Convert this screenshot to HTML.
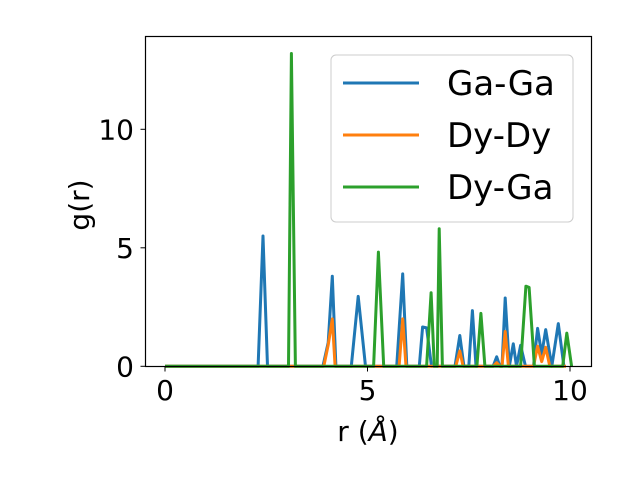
<!DOCTYPE html>
<html><head><meta charset="utf-8"><style>
html,body{margin:0;padding:0;background:#fff;}
svg text{font-family:"DejaVu Sans","Liberation Sans",sans-serif;fill:#000;}
</style></head><body>
<svg id="chart" width="640" height="480" viewBox="0 0 640 480" xmlns="http://www.w3.org/2000/svg">
<rect width="640" height="480" fill="#fff"/>
<g id="plot"></g>
<rect x="145.5" y="36.5" width="446" height="330" fill="none" stroke="#000" stroke-width="1.2"/>
<g id="ticks"></g>
<text transform="translate(89,205) rotate(-90)" text-anchor="middle" font-size="28">g(r)</text>
<text x="368" y="441" text-anchor="middle" font-size="28">r (<tspan font-style="italic">Å</tspan>)</text>
<g>
<rect x="331" y="55" width="242" height="167" rx="5" fill="#fff" fill-opacity="0.8" stroke="#ccc" stroke-width="1"/>
<line x1="343" y1="83" x2="419" y2="83" stroke="#1f77b4" stroke-width="3"/>
<text x="447" y="95" font-size="34">Ga-Ga</text>
<line x1="343" y1="135" x2="419" y2="135" stroke="#ff7f0e" stroke-width="3"/>
<text x="447" y="147" font-size="34">Dy-Dy</text>
<line x1="343" y1="187" x2="419" y2="187" stroke="#2ca02c" stroke-width="3"/>
<text x="447" y="199" font-size="34">Dy-Ga</text>
</g>
</svg>
<script>
const gaGaR = [0,2.3,2.42,2.53,3.9,4.03,4.13,4.22,4.6,4.77,4.95,5.72,5.87,5.97,6.28,6.36,6.46,6.58,7.16,7.28,7.38,7.5,7.59,7.68,8.1,8.19,8.27,8.32,8.4,8.5,8.6,8.68,8.78,8.9,9.1,9.2,9.3,9.4,9.55,9.71,9.85];
const gaGaG = [0,0,5.5,0,0,1.0,3.8,0,0,2.95,0,0,3.9,0,0,1.66,1.62,0,0,1.3,0,0,2.35,0,0,0.4,0,0,2.88,0,0.95,0,0.88,0,0,1.6,0.5,1.55,0,1.8,0];
const dyDyR = [0,3.92,4.03,4.13,4.2,5.78,5.87,5.95,7.18,7.28,7.36,8.1,8.19,8.27,8.32,8.4,8.48,9.1,9.2,9.3,9.4,9.5,9.9];
const dyDyG = [0,0,0.9,2.0,0,0,2.0,0,0,0.65,0,0,0.15,0,0,1.47,0,0,0.85,0.2,0.8,0,0];
const dyGaR = [0,3.05,3.12,3.22,5.15,5.27,5.4,6.46,6.57,6.65,6.72,6.77,6.85,7.7,7.8,7.9,8.78,8.91,8.99,9.12,9.82,9.92,10.04];
const dyGaG = [0,0,13.2,0,0,4.82,0,0,3.1,0,0,5.8,0,0,2.23,0,0,3.38,3.33,0,0,1.4,0];
const xTicks = [0,5,10];
const yTicks = [0,5,10];
const X = r => 165 + r*40.5;
const Y = g => 366.3 - g*23.7;
const NS = 'http://www.w3.org/2000/svg';
const plot = document.getElementById('plot');
function series(rs, gs, color, name){
  const p = document.createElementNS(NS,'polyline');
  p.setAttribute('points', rs.map((r,i)=>X(r).toFixed(1)+','+Y(gs[i]).toFixed(1)).join(' '));
  p.setAttribute('fill','none');
  p.setAttribute('stroke',color);
  p.setAttribute('stroke-width','3');
  p.setAttribute('stroke-linejoin','round');
  
  
  plot.appendChild(p);
}
series(gaGaR, gaGaG, '#1f77b4', 'series-ga-ga');
series(dyDyR, dyDyG, '#ff7f0e', 'series-dy-dy');
series(dyGaR, dyGaG, '#2ca02c', 'series-dy-ga');
const ticks = document.getElementById('ticks');
xTicks.forEach(v=>{
  const l = document.createElementNS(NS,'line');
  l.setAttribute('x1',X(v)); l.setAttribute('x2',X(v));
  l.setAttribute('y1',366.5); l.setAttribute('y2',371.5);
  l.setAttribute('stroke','#000');
  
  
  ticks.appendChild(l);
  const t = document.createElementNS(NS,'text');
  t.setAttribute('x',X(v)); t.setAttribute('y',400);
  t.setAttribute('text-anchor','middle'); t.setAttribute('font-size','28');
  t.textContent = v;
  
  
  ticks.appendChild(t);
});
yTicks.forEach(v=>{
  const l = document.createElementNS(NS,'line');
  l.setAttribute('x1',140.5); l.setAttribute('x2',145.5);
  l.setAttribute('y1',Y(v)); l.setAttribute('y2',Y(v));
  l.setAttribute('stroke','#000');
  
  
  ticks.appendChild(l);
  const t = document.createElementNS(NS,'text');
  t.setAttribute('x',134); t.setAttribute('y',Y(v)+10);
  t.setAttribute('text-anchor','end'); t.setAttribute('font-size','28');
  t.textContent = v;
  
  
  ticks.appendChild(t);
});
</script>
</body></html>
